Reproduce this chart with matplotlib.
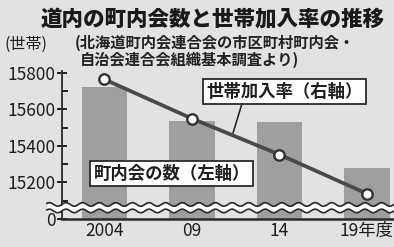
import numpy as np
import matplotlib.pyplot as plt
import matplotlib
matplotlib.rcParams['font.family'] = ['Noto Sans CJK JP', 'DejaVu Sans']

# data
years = ["2004", "09", "14", "19年度"]
counts = [15720, 15535, 15530, 15280]        # 町内会の数 (left axis)
rates = [75.2, 71.5, 68.1, 64.4]              # 世帯加入率 (right axis, not shown)
yticks = [15000, 15200, 15400, 15600, 15800]
ytick_labels = ["0", "15200", "15400", "15600", "15800"]

bg = "#e2e2e2"
fig = plt.figure(figsize=(3.94, 2.47), dpi=100, facecolor=bg)
ax = fig.add_axes([0.157, 0.113, 0.843, 0.6])
ax.set_facecolor(bg)

x = np.arange(len(years))
ax.bar(x, counts, width=0.52, color="#9f9f9f", bottom=0, zorder=2)
ax.set_ylim(15000, 15810)
ax.set_xlim(-0.486, 3.31)

ax.set_yticks(yticks)
ax.set_yticklabels(ytick_labels, fontsize=12.5, color="#1e1e1e")
ax.set_yticks(np.arange(15100, 15800, 100), minor=True)
ax.tick_params(axis="y", which="major", direction="inout", length=7, width=1.2, pad=1)
ax.tick_params(axis="y", which="minor", direction="in", length=4, width=1.2)
ax.set_xticks(x)
ax.set_xticklabels(years, fontsize=12.5, color="#1e1e1e")
ax.tick_params(axis="x", length=0, pad=2)
for s in ["top", "right"]:
    ax.spines[s].set_visible(False)
ax.spines["left"].set_linewidth(1.3)
ax.spines["bottom"].set_linewidth(1.8)
ax.spines["left"].set_color("#2a2a2a")
ax.spines["bottom"].set_color("#2a2a2a")

# right axis for the rate line (hidden)
ax2 = ax.twinx()
ax2.set_ylim(62, 76)
ax2.axis("off")
ax2.plot(x, rates, color="#4a4a4a", lw=2.7, marker="o", ms=7.5,
         mfc="white", mec="#333333", mew=1.7, zorder=5)

# wavy axis break
wx = np.linspace(-0.045, 1.0, 400)
wave = 0.012 * np.sin(wx * 2 * np.pi * 20)
ax.fill_between(wx, 0.058 + wave, 0.096 + wave, color="white", transform=ax.transAxes,
                zorder=6, clip_on=False, lw=0)
ax.plot(wx, 0.055 + wave, color="#2a2a2a", lw=1.2, transform=ax.transAxes, zorder=7, clip_on=False)
ax.plot(wx, 0.099 + wave, color="#2a2a2a", lw=1.2, transform=ax.transAxes, zorder=7, clip_on=False)

# labels
box = dict(boxstyle="square,pad=0.2", fc="white", ec="#2a2a2a", lw=1.3)
ax.text(2.06, 15697, "世帯加入率（右軸）", fontsize=12.5, fontweight="bold", ha="center",
        va="center", bbox=box, zorder=8, color="#1e1e1e")
ax.plot([1.57, 1.47], [15627, 15470], color="#2a2a2a", lw=1.2, zorder=8)
ax.text(0.77, 15249, "町内会の数（左軸）", fontsize=12.5, fontweight="bold", ha="center",
        va="center", bbox=box, zorder=8, color="#1e1e1e")

fig.text(0.104, 0.925, "道内の町内会数と世帯加入率の推移", fontsize=15.5, fontweight="heavy",
         ha="left", va="center", color="#1a1a1a")
fig.text(0.19, 0.828, "(北海道町内会連合会の市区町村町内会・", fontsize=11,
         fontweight="bold", ha="left", va="center", color="#222222")
fig.text(0.203, 0.757, "自治会連合会組織基本調査より)", fontsize=11,
         fontweight="bold", ha="left", va="center", color="#222222")
fig.text(0.012, 0.822, "(世帯)", fontsize=11.5, ha="left", va="center", color="#222222")

fig.savefig("out.png", dpi=100, facecolor=bg)
